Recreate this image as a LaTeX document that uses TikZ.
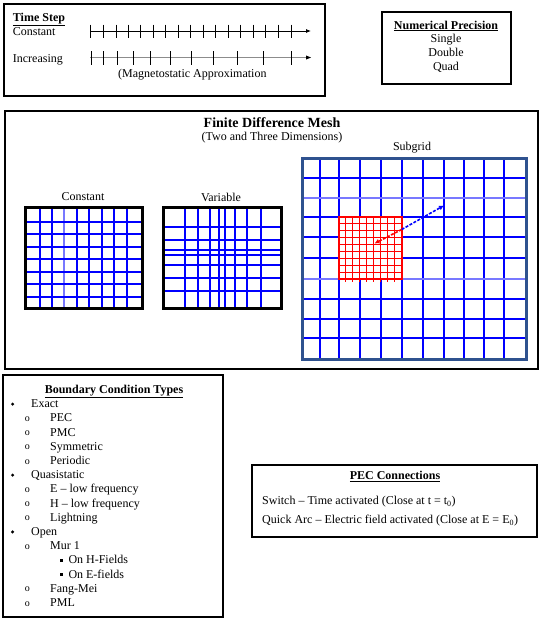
\documentclass[tikz,border=0pt]{standalone}
\usepackage{fontspec}
\setmainfont{Liberation Serif}
\usetikzlibrary{arrows.meta}
\definecolor{frameblue}{RGB}{47,82,143}
\definecolor{meshblue}{RGB}{0,0,255}
\definecolor{lightmesh}{RGB}{120,120,255}
\begin{document}
\begin{tikzpicture}[x=1pt,y=-1pt,
  box/.style={draw=black,line width=2pt},
  txt/.style={font=\fontsize{12}{14}\selectfont,inner sep=0pt,anchor=base west},
  ctxt/.style={font=\fontsize{12}{14}\selectfont,inner sep=0pt,anchor=base},
  hd/.style={font=\fontsize{12}{14}\selectfont\bfseries,inner sep=0pt,anchor=base},
  axisline/.style={line width=0.8pt,-{Latex[length=5pt,width=4pt]}},
  tickmark/.style={line width=0.8pt},
  bl/.style={line width=2pt,draw=meshblue},
  lbl/.style={line width=2pt,draw=lightmesh},
  rl/.style={line width=0.9pt,draw=red},
  dasharrow/.style={line width=1.6pt,dash pattern=on 3pt off 1.5pt,-{Latex[length=5pt,width=5pt]}},
]
\useasboundingbox (0,0) rectangle (539,619);

% ---------- Time step box ----------
\draw[box] (4,4) rectangle (325,96);
\node[txt,font=\fontsize{12}{14}\selectfont\bfseries] (ts) at (12.7,21) {\underline{Time Step}};
\node[txt] (tconst) at (12.7,35.5) {Constant};
\node[txt] (tinc) at (12.7,62.5) {Increasing};
\node[txt] (tmag) at (118,77) {(Magnetostatic Approximation};
\coordinate (a1s) at (90,31);
\coordinate (a1e) at (311,31);
\coordinate (a2s) at (90,57.5);
\coordinate (a2e) at (311,57.5);
\draw[axisline] (a1s) -- (a1e);
\draw[axisline,draw=black!45] (a2s) -- (a2e);
\fill[black] (311,57.5) -- (306,55.5) -- (306,59.5) -- cycle;
\foreach \x in {90.7,103,116,128,140,153,165,178,190,203,215,228,240,253,265,278,291}
  \draw[tickmark] (\x,24.5) -- (\x,37.5);
\foreach \x in {91,103,117,133,150,170,191,213,237,263,291}
  \draw[tickmark] (\x,51) -- (\x,64.5);

% ---------- Numerical precision ----------
\draw[box] (382,12) rectangle (511,84);
\node[hd] (np) at (446,29) {\underline{Numerical Precision}};
\node[ctxt] (nps) at (446,42.5) {Single};
\node[ctxt] (npd) at (446,56.2) {Double};
\node[ctxt] (npq) at (446,70) {Quad};

% ---------- Finite difference mesh ----------
\draw[box] (5,111) rectangle (538,369);
\node[hd,font=\fontsize{14}{16}\selectfont\bfseries] (fdm) at (272,127.7) {Finite Difference Mesh};
\node[ctxt] (fdms) at (272,140.7) {(Two and Three Dimensions)};

% constant grid
\node[ctxt] (lc) at (83,200.7) {Constant};
\foreach \x in {40,52,77,89,102,114,127} \draw[bl] (\x,207) -- (\x,308);
\draw[lbl] (64,207) -- (64,308);
\foreach \y in {222,234,247,259,272,284,297} \draw[bl] (25,\y) -- (142,\y);
\draw[line width=3pt] (25,207) rectangle (142,308);

% variable grid
\node[ctxt] (lv) at (221,201.3) {Variable};
\foreach \x in {185,198,210,219,225,235,247,261} \draw[bl] (\x,207) -- (\x,308);
\foreach \y in {227,240,250,255,265,278,291} \draw[bl] (163,\y) -- (281,\y);
\draw[line width=3pt] (163,207) rectangle (281,308);

% subgrid
\node[ctxt] (ls) at (412,150.7) {Subgrid};
\foreach \x in {320,339,360,381,402,423,444,464,484,504} \draw[bl] (\x,158) -- (\x,359);
\foreach \y in {178,217,237,258,299,319,338} \draw[bl] (302,\y) -- (526,\y);
\draw[lbl] (302,198) -- (526,198);
\draw[lbl] (302,279) -- (526,279);
\fill[white] (338.5,216.8) rectangle (401.7,279.3);
\foreach \k in {1,...,8} \draw[rl] ({338.5+\k*7.02},216.8) -- ({338.5+\k*7.02},281.5);
\foreach \k in {1,...,8} \draw[rl] (338.5,{216.8+\k*6.94}) -- (401.7,{216.8+\k*6.94});
\draw[red,line width=2pt] (338.5,216.8) rectangle (401.7,279.3);
\draw[frameblue,line width=3pt] (302,158) rectangle (526,359);
\coordinate (amid) at (401.7,229.5);
\coordinate (ared) at (374.5,243.5);
\coordinate (ablue) at (444,205.5);
\draw[dasharrow,red] (amid) -- (ared);
\draw[dasharrow,meshblue] (amid) -- (ablue);

% ---------- Boundary condition types ----------
\draw[box] (3,375) rectangle (223,617);
\node[hd] (bct) at (114,393.3) {\underline{Boundary Condition Types}};
\foreach \lv/\t [count=\i] in {1/Exact,2/PEC,2/PMC,2/Symmetric,2/Periodic,1/Quasistatic,2/E -- low frequency,2/H -- low frequency,2/Lightning,1/Open,2/Mur 1,3/On H-Fields,3/On E-fields,2/Fang-Mei,2/PML}{
  \pgfmathsetmacro{\yy}{407.7+(\i-1)*14.2}
  \ifcase\lv\or
    \fill (12.6,\yy-3.6) circle (1.7);
    \node[txt] (bc\i) at (31,\yy) {\t};
  \or
    \node[txt,font=\fontsize{10}{10}\selectfont] (bo\i) at (24.6,\yy-0.5) {o};
    \node[txt] (bc\i) at (50,\yy) {\t};
  \or
    \fill (59.7,\yy-5) rectangle (62.7,\yy-1.8);
    \node[txt] (bc\i) at (68.3,\yy) {\t};
  \fi
}

% ---------- PEC connections ----------
\draw[box] (252,465) rectangle (537,537);
\node[hd] (pec) at (395,479.3) {\underline{PEC Connections}};
\node[txt] (pec1) at (262,504.5) {Switch -- Time activated (Close at t = t\textsubscript{0})};
\node[txt] (pec2) at (262,523.5) {Quick Arc -- Electric field activated (Close at E = E\textsubscript{0})};
\end{tikzpicture}
\end{document}
